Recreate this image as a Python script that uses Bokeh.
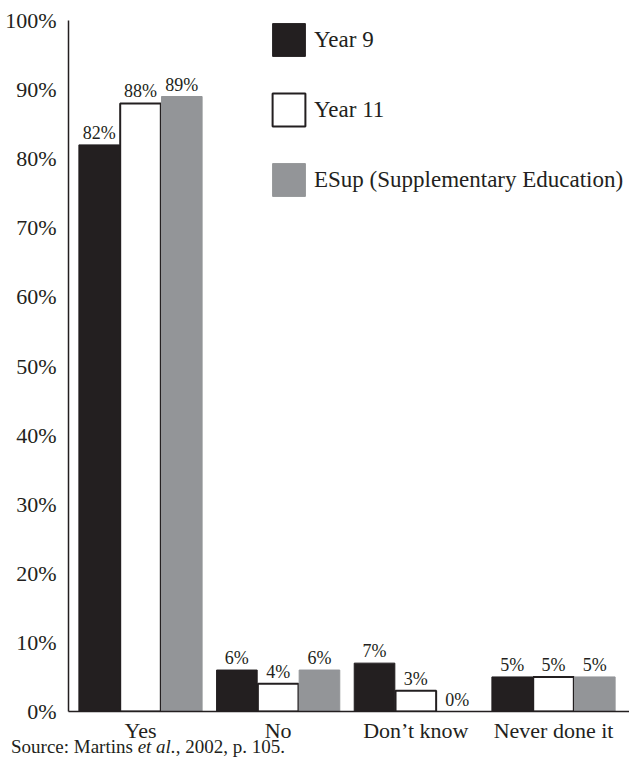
from bokeh.plotting import figure
from bokeh.models import ColumnDataSource, FixedTicker, PrintfTickFormatter, Legend, LegendItem, Div
from bokeh.layouts import column
from bokeh.embed import file_html
from bokeh.resources import INLINE

categories = ["Yes", "No", "Don\u2019t know", "Never done it"]
series_names = ["Year 9", "Year 11", "ESup (Supplementary Education)"]
year9 = [82, 6, 7, 5]
year11 = [88, 4, 3, 5]
esup = [89, 6, 0, 5]
y_ticks = [0, 10, 20, 30, 40, 50, 60, 70, 80, 90, 100]
source_html = "Source: Martins <i>et al.</i>, 2002, p. 105."

FONT = "Liberation Serif"
BLACK = "#231f20"
GREY = "#939598"

p = figure(width=629, height=745, output_backend="svg", toolbar_location=None,
           x_range=(-0.523, 3.552), y_range=(0, 100),
           min_border_left=68, min_border_right=0, min_border_top=20, min_border_bottom=34)
p.outline_line_color = None
p.grid.grid_line_color = None
p.background_fill_color = "white"
p.border_fill_color = "white"

offsets = [-0.3, 0.0, 0.3]
series = [year9, year11, esup]
styles = [
    dict(fill_color=BLACK, line_color=BLACK, line_width=1),
    dict(fill_color="white", line_color=BLACK, line_width=2),
    dict(fill_color=GREY, line_color=GREY, line_width=1),
]
items = []
for name, vals, off, st in zip(series_names, series, offsets, styles):
    xs = [i + off for i in range(len(categories))]
    src = ColumnDataSource(dict(x=xs, top=vals, lab=[f"{v}%" for v in vals]))
    r = p.vbar(x="x", top="top", bottom=0, width=0.295, source=src, **st)
    items.append(LegendItem(label=name, renderers=[r]))
    p.text(x="x", y="top", text="lab", source=src, text_align="center", text_baseline="bottom",
           y_offset=-2, text_font_size="18px", text_color=BLACK, text_font=FONT)

legend = Legend(items=items, location=(200, 511), orientation="vertical",
                glyph_width=41, glyph_height=41, spacing=29, padding=0, margin=0,
                label_standoff=5, label_text_font=FONT, label_text_font_size="23px",
                label_text_color=BLACK, border_line_alpha=0, background_fill_alpha=0,
                label_height=41)
p.add_layout(legend)

p.yaxis.ticker = FixedTicker(ticks=y_ticks)
p.yaxis.formatter = PrintfTickFormatter(format="%d%%")
p.yaxis.major_tick_line_color = None
p.yaxis.minor_tick_line_color = None
p.yaxis.axis_line_color = BLACK
p.yaxis.axis_line_width = 1.5
p.yaxis.major_label_text_font = FONT
p.yaxis.major_label_text_font_size = "22px"
p.yaxis.major_label_text_color = BLACK
p.yaxis.major_label_standoff = 6

p.xaxis.ticker = FixedTicker(ticks=list(range(len(categories))))
p.xaxis.major_label_overrides = {i: c for i, c in enumerate(categories)}
p.xaxis.major_tick_line_color = None
p.xaxis.minor_tick_line_color = None
p.xaxis.axis_line_color = BLACK
p.xaxis.axis_line_width = 1.5
p.xaxis.major_label_text_font = FONT
p.xaxis.major_label_text_font_size = "22px"
p.xaxis.major_label_text_color = BLACK
p.xaxis.major_label_standoff = 0

div = Div(text=source_html, width=629, height=20, margin=(-8, 0, 0, 0),
          styles={"font-family": FONT, "font-size": "19px", "color": BLACK,
                  "line-height": "20px", "padding-left": "11px", "white-space": "nowrap"})

layout = column(p, div, spacing=0, margin=0)
open("out.html", "w").write(file_html(layout, INLINE))
